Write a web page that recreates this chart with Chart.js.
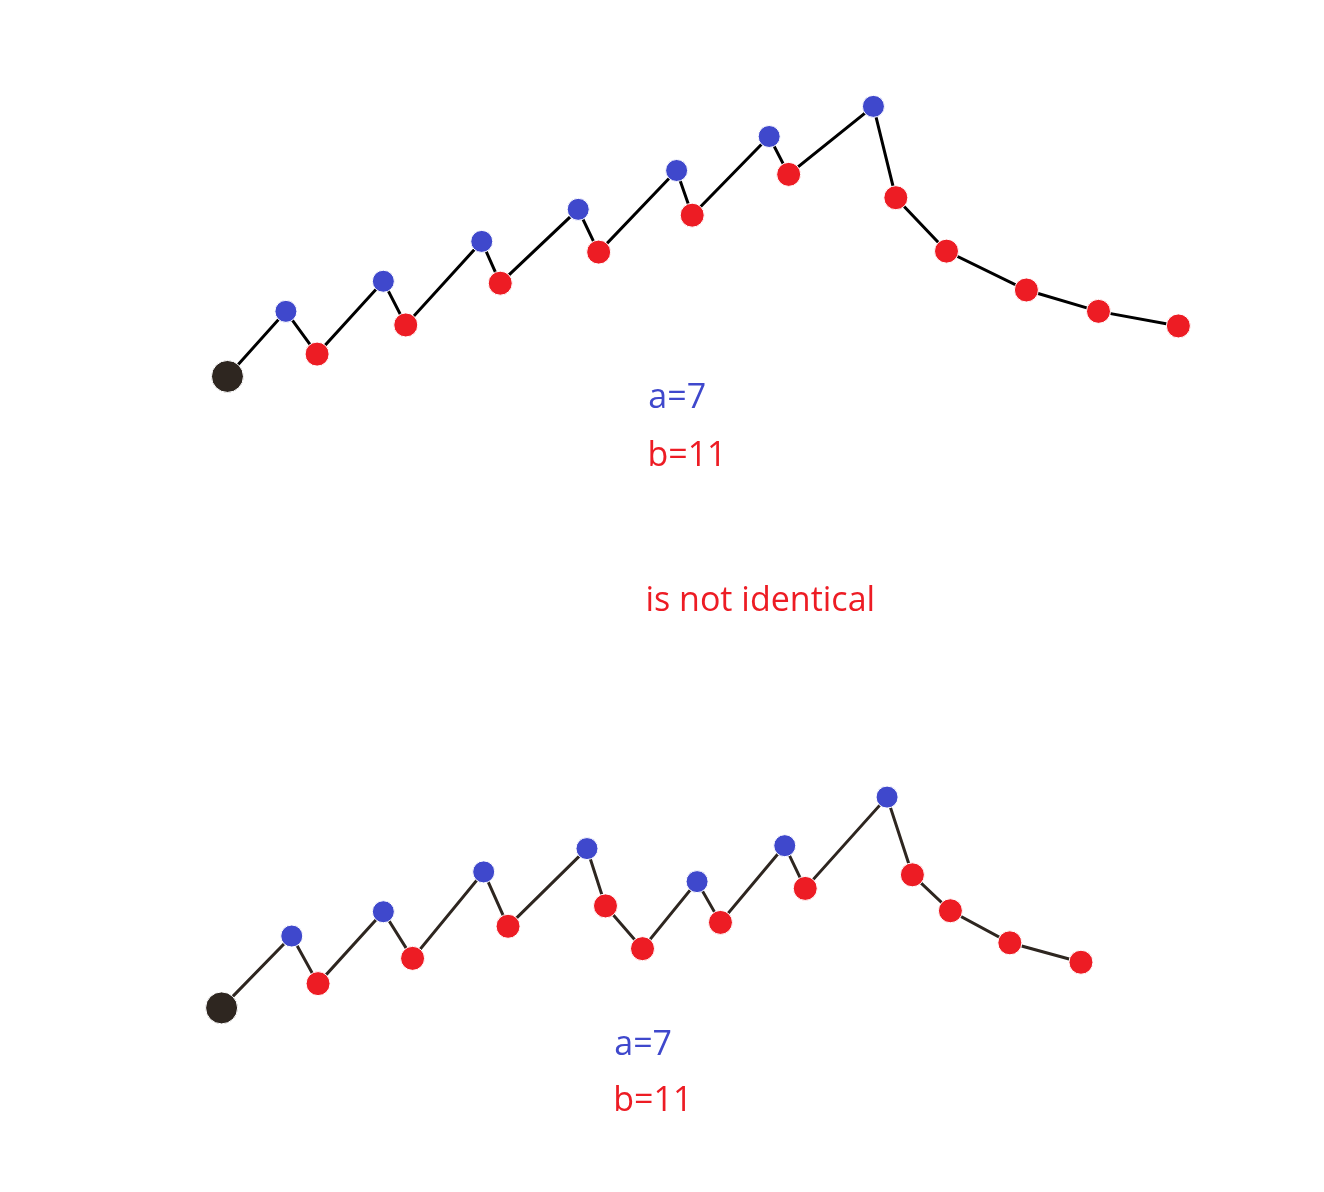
<!DOCTYPE html>
<html>
<head>
<meta charset="utf-8">
<script src="https://cdn.jsdelivr.net/npm/chart.js@4/dist/chart.umd.min.js"></script>
<style>body{margin:0;background:#fff}</style>
</head>
<body>
<canvas id="c" width="1324" height="1192"></canvas>
<script>
// point kinds: s = start, a = blue, b = red
const topX = [216, 276, 308, 376, 399, 477, 496, 576, 597, 677, 693, 772, 792, 879, 902, 954, 1036, 1110, 1192];
const topY = [370, 303, 347, 272, 317, 231, 274, 198, 242, 158, 204, 123, 162, 92, 186, 241, 281, 303, 318];
const topKind = ["s","a","b","a","b","a","b","a","b","a","b","a","b","a","b","b","b","b","b"];

const botX = [210, 282, 309, 376, 406, 479, 504, 585, 604, 642, 698, 722, 788, 809, 893, 919, 958, 1019, 1092];
const botY = [1020, 946, 995, 921, 969, 880, 936, 856, 915, 959, 890, 932, 853, 897, 803, 883, 920, 953, 973];
const botKind = ["s","a","b","a","b","a","b","a","b","b","a","b","a","b","a","b","b","b","b"];

const labels = [
  { text: "a=7", x: 648, y: 393, color: "#3f48cc" },
  { text: "b=11", x: 647, y: 452, color: "#ed1c24" },
  { text: "is not identical", x: 645, y: 601, color: "#ed1c24" },
  { text: "a=7", x: 613, y: 1058, color: "#3f48cc" },
  { text: "b=11", x: 612, y: 1116, color: "#ed1c24" }
];

const kindColor = { s: "#2e2620", a: "#3f48cc", b: "#ed1c24" };
const kindRadius = { s: 16, a: 11, b: 12 };

function path(xs, ys, kinds, lineColor) {
  return {
    data: xs.map((x, i) => ({ x: x, y: ys[i] })),
    showLine: true,
    borderColor: lineColor,
    borderWidth: 3,
    pointRadius: kinds.map(k => kindRadius[k]),
    pointBackgroundColor: kinds.map(k => kindColor[k]),
    pointBorderColor: "#fff",
    pointBorderWidth: 1,
    tension: 0
  };
}

const textPlugin = {
  id: "texts",
  afterDraw(chart) {
    const ctx = chart.ctx;
    const sx = chart.scales.x, sy = chart.scales.y;
    ctx.save();
    ctx.font = "34px 'Open Sans', 'Noto Sans', sans-serif";
    ctx.textBaseline = "middle";
    labels.forEach(l => {
      ctx.fillStyle = l.color;
      ctx.fillText(l.text, sx.getPixelForValue(l.x), sy.getPixelForValue(l.y));
    });
    ctx.restore();
  }
};

new Chart(document.getElementById("c").getContext("2d"), {
  type: "scatter",
  data: {
    datasets: [
      path(topX, topY, topKind, "#000"),
      path(botX, botY, botKind, "#2e2620")
    ]
  },
  options: {
    responsive: false,
    animation: false,
    layout: { padding: 0 },
    plugins: { legend: { display: false }, tooltip: { enabled: false } },
    scales: {
      x: { type: "linear", min: 0, max: 1324, display: false },
      y: { type: "linear", min: 0, max: 1192, reverse: true, display: false }
    }
  },
  plugins: [textPlugin]
});
</script>
</body>
</html>
